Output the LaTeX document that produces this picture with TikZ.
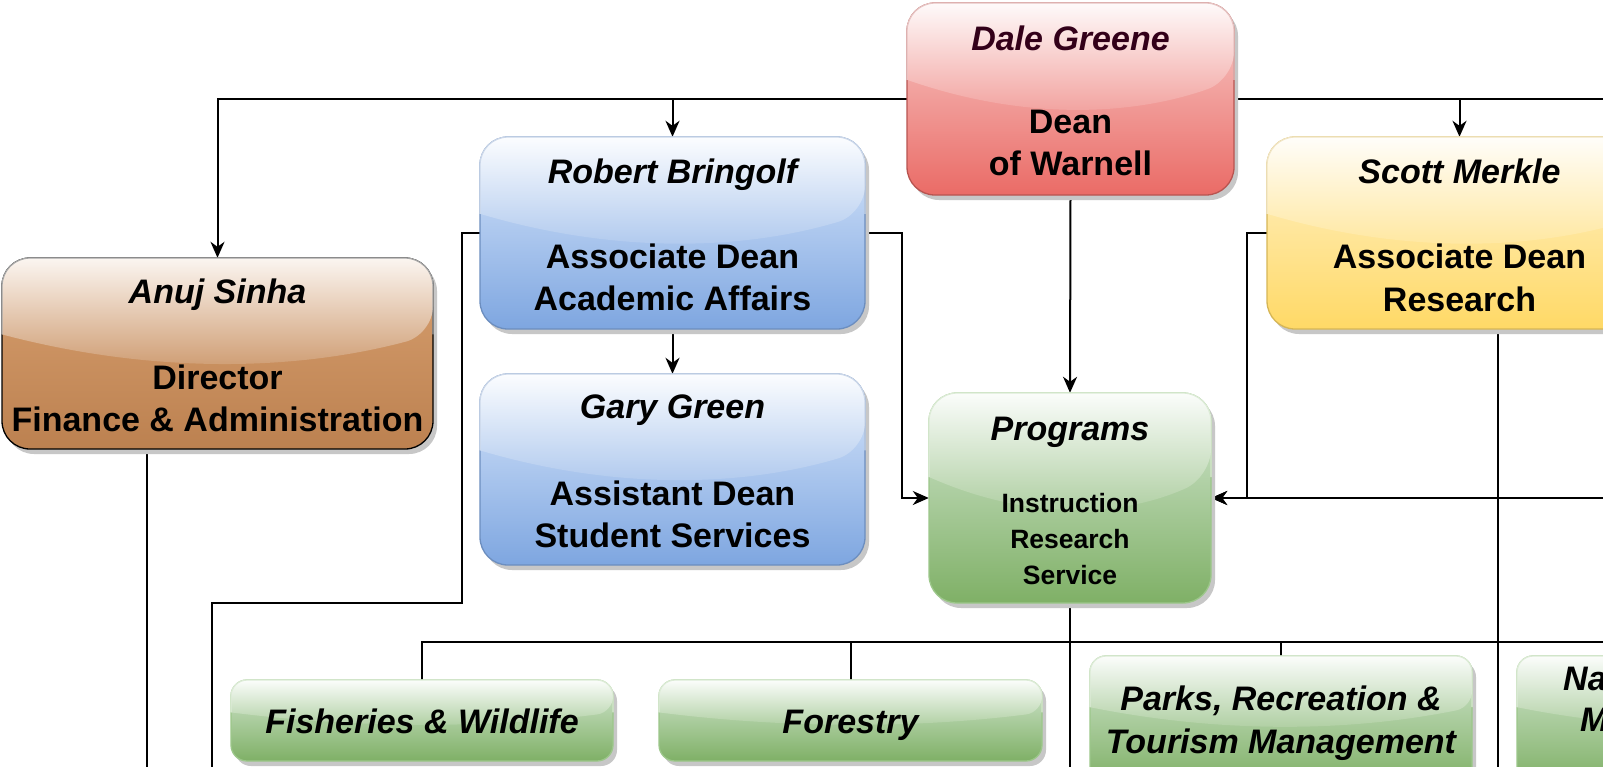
\documentclass[tikz,border=0pt]{standalone}
\usepackage{fontspec}
\setmainfont{Liberation Sans}
\usetikzlibrary{arrows.meta,calc}
\pgfdeclarelayer{bg}
\pgfsetlayers{bg,main}
\definecolor{redF}{HTML}{F8CECC}\definecolor{redG}{HTML}{EA6B66}\definecolor{redS}{HTML}{B85450}
\definecolor{blueF}{HTML}{DAE8FC}\definecolor{blueG}{HTML}{7EA6E0}\definecolor{blueS}{HTML}{6C8EBF}
\definecolor{yelF}{HTML}{FFF2CC}\definecolor{yelG}{HTML}{FFD966}\definecolor{yelS}{HTML}{D6B656}
\definecolor{grnF}{HTML}{D5E8D4}\definecolor{grnG}{HTML}{7FB066}\definecolor{grnS}{HTML}{9CC78A}
\definecolor{brnF}{HTML}{D8A070}\definecolor{brnG}{HTML}{BC8150}\definecolor{brnS}{HTML}{000000}
\definecolor{dgtext}{HTML}{330019}
\colorlet{shadowc}{black!22}
\newcommand\gbox[9]{%
 \pgfmathsetmacro\gH{#5-#3}%
 \pgfmathsetmacro\gW{#4-#2}%
 \pgfmathsetmacro\gY{#3+0.4*\gH}%
 \pgfmathsetmacro\gC{#3+0.6*\gH}%
 \pgfmathsetmacro\gL{#2+\gW/3}%
 \pgfmathsetmacro\gR{#4-\gW/3}%
 \colorlet{gT}{#7!10!white}%
 \colorlet{gM}{#7!40!#8}%
 \colorlet{gB}{gM!90!white}%
 \fill[shadowc, rounded corners=#6] (#2+4,#3+5) rectangle (#4+4,#5+5);
 \shade[top color=#7, bottom color=#8, rounded corners=#6] (#2,#3) rectangle (#4,#5);
 \draw[#9, line width=1.3pt, rounded corners=#6] (#2,#3) rectangle (#4,#5);
 \shade[top color=gT, bottom color=gB, rounded corners=#6] (#2,\gY) |- (#4,#3) -- (#4,\gY) [sharp corners] .. controls (\gR,\gC) and (\gL,\gC) .. (#2,\gY) -- cycle;
 \draw[#9!35!white, line width=1.3pt, rounded corners=#6] (#2,\gY) |- (#4,#3) -- (#4,\gY);
 \node[inner sep=0, minimum width=\gW, minimum height=\gH] (#1) at ({(#2+#4)/2},{(#3+#5)/2}) {};
}
\tikzset{
 nmtext/.style={font=\fontsize{34}{40}\selectfont\bfseries\itshape, anchor=base, inner sep=0},
 ttext/.style={font=\fontsize{34}{40}\selectfont\bfseries, anchor=base, inner sep=0},
 stext/.style={font=\fontsize{26.5}{32}\selectfont\bfseries, anchor=base, inner sep=0},
 conn/.style={draw=black, line width=2pt},
 arr/.style={conn, -{Stealth[length=16pt, width=14pt, inset=5pt]}},
}
\begin{document}
\begin{tikzpicture}[x=1pt, y=-1pt]
\useasboundingbox (0,0) rectangle (1603,766);
\clip (0,0) rectangle (1603,766);
% boxes
\gbox{dale}{907}{3}{1234}{195}{28}{redF}{redG}{redS}
\gbox{anuj}{2}{258}{433}{449}{28}{brnF}{brnG}{brnS}
\gbox{robert}{480}{137}{865}{329}{28}{blueF}{blueG}{blueS}
\gbox{gary}{480}{374}{865}{565}{28}{blueF}{blueG}{blueS}
\gbox{scott}{1267}{137}{1652}{329}{28}{yelF}{yelG}{yelS}
\gbox{prog}{929}{393}{1211}{603}{28}{grnF}{grnG}{grnS}
\gbox{fish}{231}{680}{613}{761}{16}{grnF}{grnG}{grnS}
\gbox{forest}{659}{680}{1042}{761}{16}{grnF}{grnG}{grnS}
\gbox{prtm}{1090}{656}{1472}{784}{16}{grnF}{grnG}{grnS}
\gbox{nrms}{1517}{656}{1899}{784}{16}{grnF}{grnG}{grnS}
% texts
\node[nmtext, text=dgtext] (daleN) at (1070.5,50) {Dale Greene};
\node[ttext] (daleT1) at (1070.5,133) {Dean};
\node[ttext] (daleT2) at (1070.5,175) {of Warnell};
\node[nmtext] (anujN) at (217.5,303) {Anuj Sinha};
\node[ttext] (anujT1) at (217.5,389) {Director};
\node[ttext] (anujT2) at (217.5,431) {Finance \& Administration};
\node[nmtext] (robertN) at (672.5,183) {Robert Bringolf};
\node[ttext] (robertT1) at (672.5,268) {Associate Dean};
\node[ttext] (robertT2) at (672.5,310) {Academic Affairs};
\node[nmtext] (garyN) at (672.5,418) {Gary Green};
\node[ttext] (garyT1) at (672.5,505) {Assistant Dean};
\node[ttext] (garyT2) at (672.5,547) {Student Services};
\node[nmtext] (scottN) at (1459.5,183) {Scott Merkle};
\node[ttext] (scottT1) at (1459.5,268) {Associate Dean};
\node[ttext] (scottT2) at (1459.5,311) {Research};
\node[nmtext] (progN) at (1070,440) {Programs};
\node[stext] (progT1) at (1070,512) {Instruction};
\node[stext] (progT2) at (1070,548) {Research};
\node[stext] (progT3) at (1070,584) {Service};
\node[nmtext] (fishN) at (422,733) {Fisheries \& Wildlife};
\node[nmtext] (forestN) at (850.5,733) {Forestry};
\node[nmtext] (prtmN1) at (1281,710) {Parks, Recreation \&};
\node[nmtext] (prtmN2) at (1281,753) {Tourism Management};
\node[nmtext, anchor=base west] (nrmsN1) at (1563,690) {Na};
\node[nmtext, anchor=base west] (nrmsN2) at (1580,731) {M};
% connectors
\begin{pgfonlayer}{bg}
\fill[white] (0,0) rectangle (1603,766);
\clip (0,0) rectangle (1603,766);
\coordinate (tOff) at (1610,99);
\coordinate (rOff) at (1610,498);
\coordinate (bOff) at (1610,642);
\coordinate (aEnd) at (147,770);
\coordinate (rEnd) at (212,770);
\coordinate (pEnd) at (1070,770);
\coordinate (sEnd) at (1498,770);
\draw[arr] (dale.west) -| (anuj.north);
\draw[arr] (dale.west) -| (robert.north);
\draw[arr] (dale.east) -| (scott.north);
\draw[conn] (dale.east) -- (tOff);
\draw[arr] (dale.south) -- (prog.north);
\draw[arr] (robert.south) -- (gary.north);
\draw[conn] (robert.west) -| (462,603) -| (rEnd);
\draw[arr] (robert.east) -| (902,498) -- (prog.west);
\draw[arr] (scott.west) -| (1247,498) -- (prog.east);
\draw[arr] (rOff) -- (prog.east);
\draw[conn] (sEnd |- scott.south) -- (sEnd);
\draw[conn] (aEnd |- anuj.south) -- (aEnd);
\draw[conn] (prog.south) -- (prog.south |- pEnd);
\draw[conn] (fish.north) |- (bOff);
\draw[conn] (forest.north) -- (forest.north |- bOff);
\draw[conn] (prtm.north) -- (prtm.north |- bOff);
\end{pgfonlayer}
\end{tikzpicture}
\end{document}
